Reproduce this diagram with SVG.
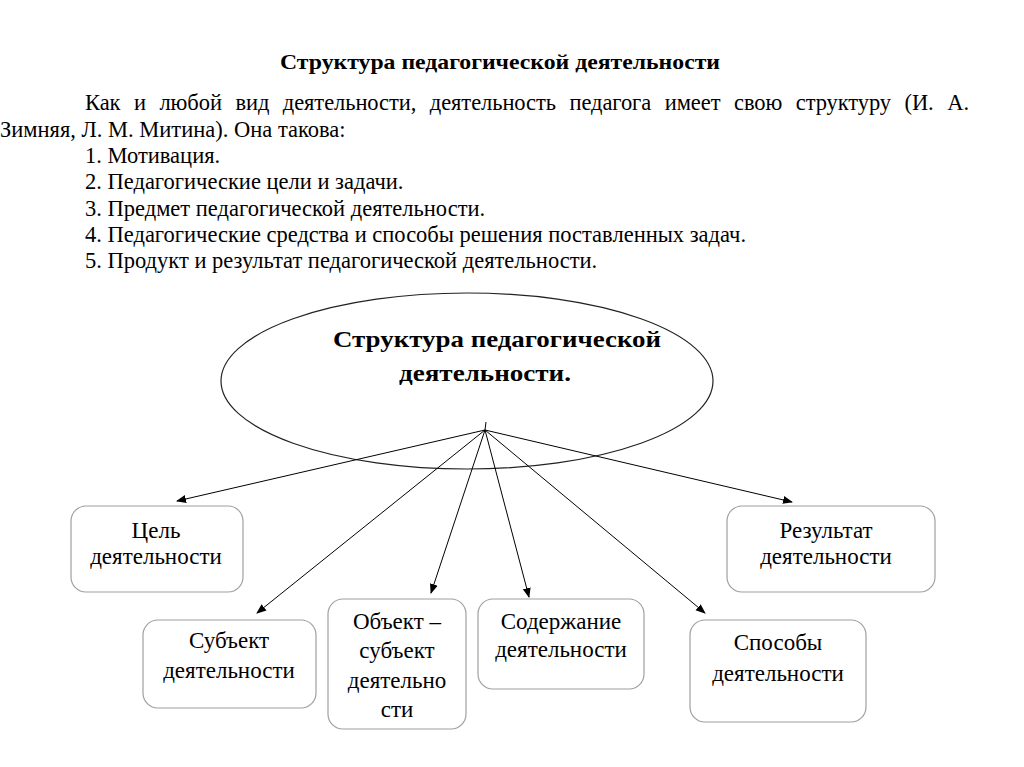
<svg xmlns="http://www.w3.org/2000/svg" width="1024" height="767" viewBox="0 0 1024 767">
<defs>
<style>
text{font-family:'Liberation Serif','DejaVu Serif',serif;fill:#000}
.body{font-size:22.5px}
.ttl{font-size:21px;font-weight:bold}
.big{font-size:24px;font-weight:bold}
.bx{font-size:23px;text-anchor:middle}
.box{fill:#fff;stroke:#a0a0a0;stroke-width:1.2}
.con{stroke:#000;stroke-width:1;fill:none;marker-end:url(#ah)}
</style>
<marker id="ah" viewBox="0 0 10 10" refX="9" refY="5" markerWidth="10" markerHeight="10" markerUnits="userSpaceOnUse" orient="auto">
<path d="M0,1 L10,5 L0,9 Z" fill="#000"/>
</marker>
</defs>
<rect width="1024" height="767" fill="#fff"/>
<g id="text" font-family="Liberation Serif">
<text class="ttl" x="500" y="69" text-anchor="middle" textLength="440" lengthAdjust="spacingAndGlyphs">Структура педагогической деятельности</text>
<text class="body" x="85" y="110" textLength="884" lengthAdjust="spacing" word-spacing="8">Как и любой вид деятельности, деятельность педагога имеет свою структуру (И. А.</text>
<text class="body" x="0" y="137">Зимняя, Л. М. Митина). Она такова:</text>
<text class="body" x="85" y="163">1. Мотивация.</text>
<text class="body" x="85" y="189">2. Педагогические цели и задачи.</text>
<text class="body" x="85" y="216">3. Предмет педагогической деятельности.</text>
<text class="body" x="85" y="242">4. Педагогические средства и способы решения поставленных задач.</text>
<text class="body" x="85" y="268">5. Продукт и результат педагогической деятельности.</text>
</g>
<g id="center" font-family="Liberation Serif">
<ellipse cx="467" cy="381" rx="246" ry="88" fill="none" stroke="#222" stroke-width="1.2"/>
<text class="big" x="497" y="347" text-anchor="middle" textLength="328" lengthAdjust="spacingAndGlyphs">Структура педагогической</text>
<text class="big" x="485" y="381" text-anchor="middle" textLength="172" lengthAdjust="spacingAndGlyphs">деятельности.</text>
</g>
<g id="connectors">
<line x1="486" y1="422" x2="485" y2="430" stroke="#000" stroke-width="1"/>
<line class="con" x1="485" y1="430" x2="177" y2="501"/>
<line class="con" x1="485" y1="430" x2="257" y2="613"/>
<line class="con" x1="485" y1="430" x2="431" y2="593"/>
<line class="con" x1="485" y1="430" x2="529" y2="597"/>
<line class="con" x1="485" y1="430" x2="705" y2="613"/>
<line class="con" x1="485" y1="430" x2="792" y2="502"/>
</g>
<g id="node-goal" font-family="Liberation Serif">
<rect class="box" x="71" y="506" width="172" height="86" rx="15"/>
<text class="bx" x="156" y="538">Цель</text>
<text class="bx" x="156" y="564">деятельности</text>
</g>
<g id="node-subject" font-family="Liberation Serif">
<rect class="box" x="143" y="620" width="173" height="88" rx="15"/>
<text class="bx" x="229" y="648">Субъект</text>
<text class="bx" x="229" y="678">деятельности</text>
</g>
<g id="node-object" font-family="Liberation Serif">
<rect class="box" x="328" y="599" width="138" height="130" rx="15"/>
<text class="bx" x="397" y="629">Объект –</text>
<text class="bx" x="397" y="658">субъект</text>
<text class="bx" x="397" y="688">деятельно</text>
<text class="bx" x="397" y="717">сти</text>
</g>
<g id="node-content" font-family="Liberation Serif">
<rect class="box" x="478" y="599" width="166" height="90" rx="15"/>
<text class="bx" x="561" y="629">Содержание</text>
<text class="bx" x="561" y="657">деятельности</text>
</g>
<g id="node-methods" font-family="Liberation Serif">
<rect class="box" x="690" y="620" width="176" height="102" rx="15"/>
<text class="bx" x="778" y="650">Способы</text>
<text class="bx" x="778" y="681">деятельности</text>
</g>
<g id="node-result" font-family="Liberation Serif">
<rect class="box" x="727" y="506" width="208" height="86" rx="15"/>
<text class="bx" x="826" y="538">Результат</text>
<text class="bx" x="826" y="564">деятельности</text>
</g>
</svg>
